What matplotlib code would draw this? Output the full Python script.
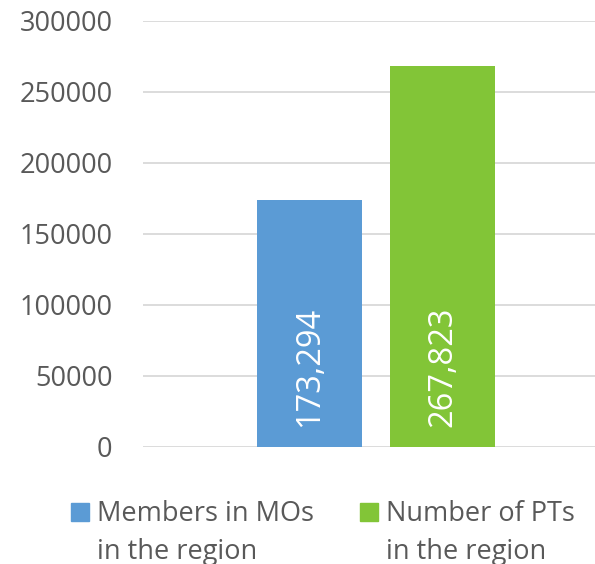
import matplotlib.pyplot as plt
from matplotlib.patches import Rectangle

series_names = ["Members in MOs\nin the region", "Number of PTs\nin the region"]
values = [173294, 267823]
colors = ["#5B9BD5", "#82C537"]
y_ticks = [0, 50000, 100000, 150000, 200000, 250000, 300000]

plt.rcParams['font.family'] = ['Open Sans', 'DejaVu Sans']

W, H = 595, 564
fig = plt.figure(figsize=(W / 100, H / 100), dpi=100)
# plot area runs a little past the right edge, as in the source image
ax = fig.add_axes([143 / W, (H - 446.5) / H, (609 - 143) / W, 426 / H])

bar_w = 0.45
offsets = [-0.285, 0.285]
for name, val, col, off in zip(series_names, values, colors, offsets):
    ax.bar(off, val, width=bar_w, color=col, label=name, zorder=3)
    ax.annotate(f"{val:,}", xy=(off, 0), xytext=(0, 14), textcoords="offset points",
                rotation=90, ha="center", va="bottom", color="white", fontsize=23.5)

ax.set_xlim(-1, 1)
ax.set_ylim(0, 300000)
ax.set_yticks(y_ticks)
ax.set_yticklabels([str(t) for t in y_ticks])
ax.set_xticks([])
ax.grid(axis="y", color="#D9D9D9", linewidth=1.3, zorder=0)
ax.tick_params(axis="y", length=0, pad=22, labelsize=19.5, labelcolor="#595959")
for s in ax.spines.values():
    s.set_visible(False)

# legend below the plot, drawn by hand so the swatch sits on the first line
legend_x = [71, 360]
for x0, name, col in zip(legend_x, series_names, colors):
    fig.patches.append(Rectangle((x0 / W, (H - 521) / H), 18 / W, 18 / H,
                                 transform=fig.transFigure, color=col))
    fig.text((x0 + 26) / W, (H - 500) / H, name, ha="left", va="top",
             fontsize=19.5, color="#595959", linespacing=1.5)

fig.savefig("out.png", dpi=100)
